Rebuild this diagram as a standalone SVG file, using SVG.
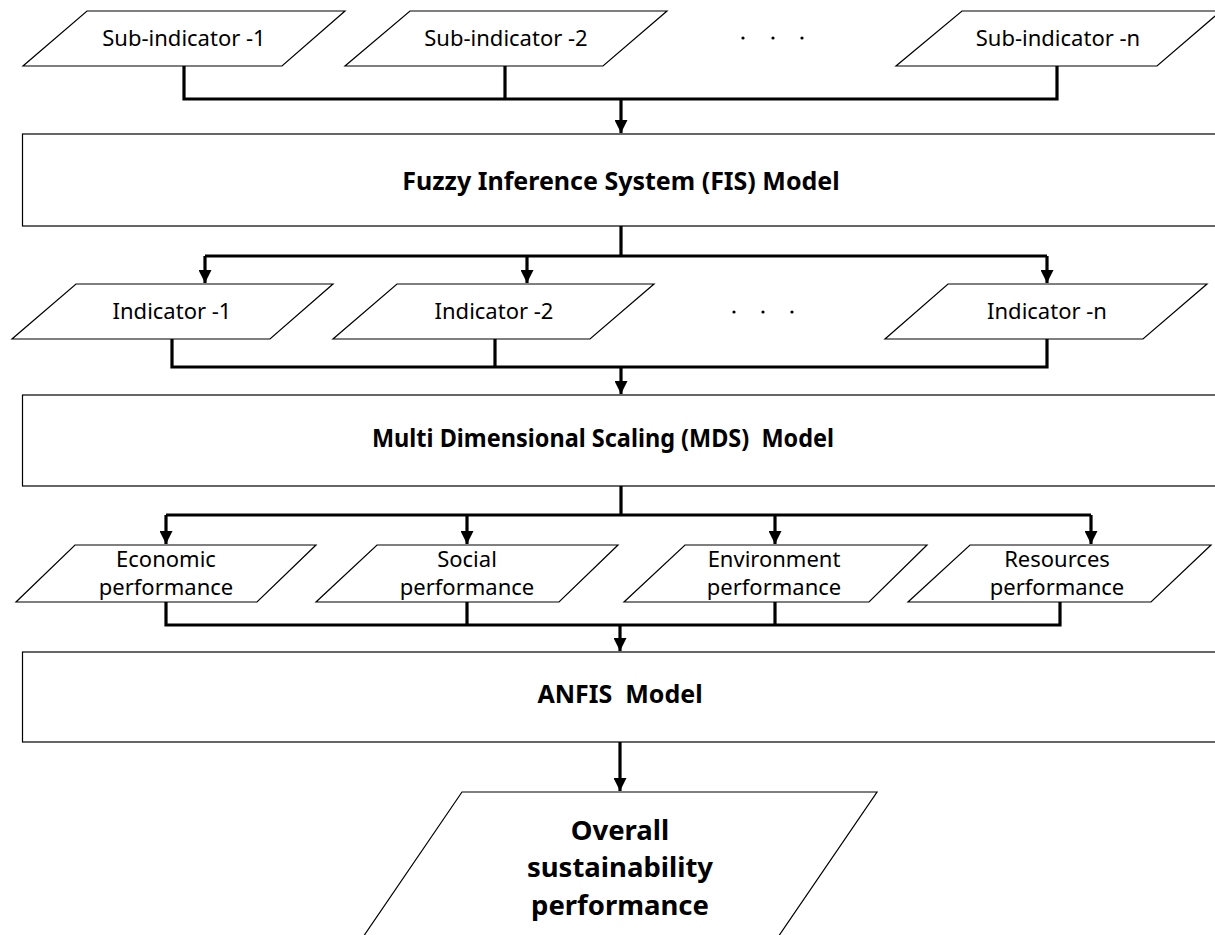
<svg xmlns="http://www.w3.org/2000/svg" width="1215" height="935" viewBox="0 0 1215 935">
<style>
.shape{fill:#fff;stroke:#000;stroke-width:1.2}
.t{font-family:"Noto Sans","Liberation Sans",sans-serif;font-size:22px;fill:#000;text-anchor:middle}
.b{font-family:"Noto Sans","Liberation Sans",sans-serif;font-size:25px;font-weight:bold;fill:#000;text-anchor:middle;white-space:pre}
.bb{font-family:"Noto Sans","Liberation Sans",sans-serif;font-size:27.5px;font-weight:bold;fill:#000;text-anchor:middle}
.c{fill:none;stroke:#000;stroke-width:3.2}
.dot{fill:#000}
</style>
<defs>
<marker id="arr" viewBox="0 0 10 10" refX="10" refY="5" markerWidth="15" markerHeight="13" markerUnits="userSpaceOnUse" orient="auto">
<path d="M0,0 L10,5 L0,10 Z" fill="#000"/>
</marker>
</defs>
<rect width="1215" height="935" fill="#fff"/>

<g id="connectors">
<path class="c" d="M184,66 V99 H1057 V66 M505,66 V99"/>
<path class="c" d="M621,99 V133" marker-end="url(#arr)"/>
<path class="c" d="M621,226 V256 H1047 M205,256 H621"/>
<path class="c" d="M205,256 V283" marker-end="url(#arr)"/>
<path class="c" d="M527,256 V283" marker-end="url(#arr)"/>
<path class="c" d="M1047,256 V283" marker-end="url(#arr)"/>
<path class="c" d="M172,339 V367 H1047 V339 M495,339 V367"/>
<path class="c" d="M621,367 V394" marker-end="url(#arr)"/>
<path class="c" d="M621,486 V515 M166,515 H1091"/>
<path class="c" d="M166,515 V544" marker-end="url(#arr)"/>
<path class="c" d="M467,515 V544" marker-end="url(#arr)"/>
<path class="c" d="M775,515 V544" marker-end="url(#arr)"/>
<path class="c" d="M1091,515 V544" marker-end="url(#arr)"/>
<path class="c" d="M166,602 V625 H1060 V602 M467,602 V625 M775,602 V625"/>
<path class="c" d="M620,625 V651" marker-end="url(#arr)"/>
<path class="c" d="M620,742 V791" marker-end="url(#arr)"/>
</g>

<g id="sub1"><polygon class="shape" points="87,11 345,11 282,66 23,66"/><text class="t" x="184" y="46">Sub-indicator -1</text></g>
<g id="sub2"><polygon class="shape" points="410,11 667,11 603,66 345,66"/><text class="t" x="506" y="46">Sub-indicator -2</text></g>
<g id="dots1"><circle class="dot" cx="743" cy="38" r="1.6"/><circle class="dot" cx="773" cy="38" r="1.6"/><circle class="dot" cx="802" cy="38" r="1.6"/></g>
<g id="subn"><polygon class="shape" points="962,11 1221,11 1157,66 896,66"/><text class="t" x="1058" y="46">Sub-indicator -n</text></g>

<g id="fis"><rect class="shape" x="22.5" y="134" width="1210" height="92"/><text class="b" x="621" y="190">Fuzzy Inference System (FIS) Model</text></g>

<g id="ind1"><polygon class="shape" points="76,284 333,284 270,339 12,339"/><text class="t" x="172" y="319">Indicator -1</text></g>
<g id="ind2"><polygon class="shape" points="397,284 654,284 590,339 333,339"/><text class="t" x="494" y="319">Indicator -2</text></g>
<g id="dots2"><circle class="dot" cx="734" cy="312" r="1.6"/><circle class="dot" cx="763" cy="312" r="1.6"/><circle class="dot" cx="792" cy="312" r="1.6"/></g>
<g id="indn"><polygon class="shape" points="948,284 1207,284 1143,339 885,339"/><text class="t" x="1047" y="319">Indicator -n</text></g>

<g id="mds"><rect class="shape" x="22.5" y="395" width="1210" height="91"/><text class="b" x="603" y="447" xml:space="preserve" textLength="462" lengthAdjust="spacingAndGlyphs">Multi Dimensional Scaling (MDS)  Model</text></g>

<g id="eco"><polygon class="shape" points="75,545 316,545 257,602 16,602"/><text class="t" x="166" y="567">Economic</text><text class="t" x="166" y="595">performance</text></g>
<g id="soc"><polygon class="shape" points="377,545 618,545 559,602 316,602"/><text class="t" x="467" y="567">Social</text><text class="t" x="467" y="595">performance</text></g>
<g id="env"><polygon class="shape" points="685,545 927,545 869,602 624,602"/><text class="t" x="774" y="567">Environment</text><text class="t" x="774" y="595">performance</text></g>
<g id="res"><polygon class="shape" points="970,545 1211,545 1151,602 908,602"/><text class="t" x="1057" y="567">Resources</text><text class="t" x="1057" y="595">performance</text></g>

<g id="anfis"><rect class="shape" x="22.5" y="652" width="1210" height="90"/><text class="b" x="620" y="703" xml:space="preserve">ANFIS  Model</text></g>

<g id="overall"><polygon class="shape" points="462,792 877,792 776,940 361,940"/><text class="bb" x="620" y="840">Overall</text><text class="bb" x="620" y="877">sustainability</text><text class="bb" x="620" y="915">performance</text></g>
</svg>
